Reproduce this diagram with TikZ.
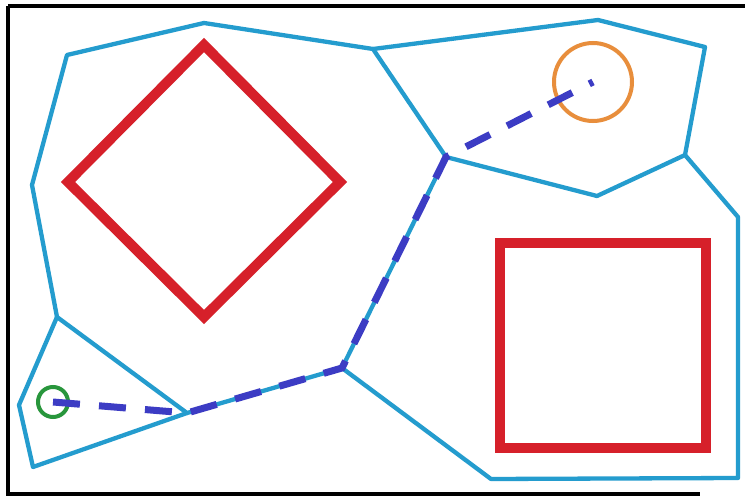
\documentclass[tikz,border=0pt]{standalone}
\usepackage{xcolor}
\usepackage{tikz}
\usetikzlibrary{calc}

\definecolor{cellblue}{RGB}{36,156,206}
\definecolor{obsred}{RGB}{214,32,42}
\definecolor{goalorange}{RGB}{232,142,60}
\definecolor{startgreen}{RGB}{40,150,60}
\definecolor{pathblue}{RGB}{60,60,196}

\tikzset{
  cell/.style={cellblue,line width=4.3pt,line join=round},
  obstacle/.style={obsred,line width=10pt,line join=miter},
  route/.style={pathblue,line width=7pt,dash pattern=on 27pt off 19.13pt}
}

\begin{document}
\begin{tikzpicture}[x=1pt,y=-1pt]
  \useasboundingbox (0,0) rectangle (745,497);
  \fill[white] (0,0) rectangle (745,497);
  \draw[black,line width=4.5pt] (8,6)--(745,6) (8,6)--(8,494)--(700,494);

  % cell corners
  \coordinate (a) at (67,55);
  \coordinate (b) at (204,23);
  \coordinate (c) at (373,49);
  \coordinate (d) at (598,20);
  \coordinate (e) at (705,47);
  \coordinate (f) at (685,155);
  \coordinate (g) at (597,196);
  \coordinate (h) at (446,157);
  \coordinate (i) at (738,217);
  \coordinate (j) at (738,478);
  \coordinate (k) at (491,479);
  \coordinate (l) at (342,368);
  \coordinate (m) at (187,413);
  \coordinate (n) at (57,317);
  \coordinate (o) at (32,185);
  \coordinate (p) at (19,405);
  \coordinate (q) at (33,467);
  \coordinate (start) at (53,402);
  \coordinate (goal) at (593,82);

  % cells
  \draw[cell] (a)--(b)--(c)--(h)--(l)--(m)--(n)--(o)--cycle;
  \draw[cell] (c)--(d)--(e)--(f)--(g)--(h);
  \draw[cell] (f)--(i)--(j)--(k)--(l);
  \draw[cell] (n)--(p)--(q)--(m);

  % obstacles
  \draw[obstacle] (204,45)--(340,182)--(204,317)--(68,182)--cycle;
  \draw[obstacle] (500,243) rectangle (706,448);

  % start, goal, route
  \draw[startgreen,line width=4pt] (start) circle (15);
  \draw[goalorange,line width=4pt] (goal) circle (39);
  \draw[route] (start)--(m)--(l)--(h)--(goal);
\end{tikzpicture}
\end{document}
